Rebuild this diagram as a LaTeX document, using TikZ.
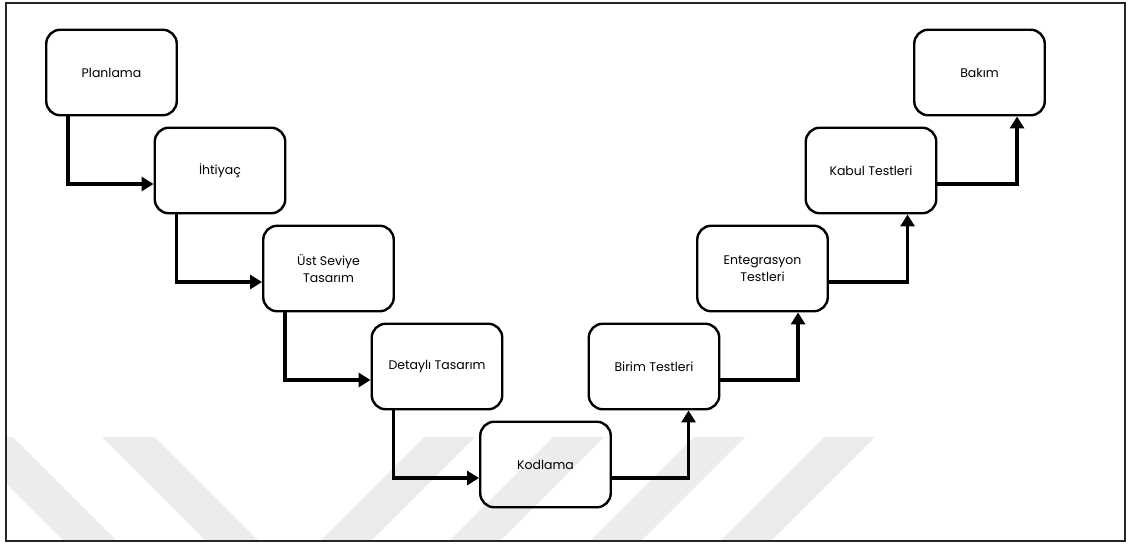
\documentclass[tikz,border=0pt]{standalone}
\usepackage{fontspec}
\setmainfont{Poppins}
\usetikzlibrary{arrows.meta}
\definecolor{wmgray}{RGB}{236,236,236}
\begin{document}
\begin{tikzpicture}[x=1pt,y=-1pt,
  stage/.style={draw=black, line width=2.4pt, rounded corners=14pt,
    minimum width=130.5pt, minimum height=85.5pt, inner sep=0pt,
    align=center, font=\fontsize{12.5}{17}\selectfont},
  flow/.style={line width=3.6pt, -{Triangle[length=12pt,width=14pt]}},
  stripe/.style={fill=wmgray, draw=none}]

\useasboundingbox (0,0) rectangle (1128,544);

% background stripes along the lower edge
\begin{scope}
  \clip (6,3) rectangle (1125,541);
  \foreach \x in {-40,102}
    \fill[stripe] (\x,437) -- ++(53,0) -- ++(107,107) -- ++(-53,0) -- cycle;
  \foreach \x in {424,553,694,824}
    \fill[stripe] (\x,437) -- ++(51,0) -- ++(-107,107) -- ++(-51,0) -- cycle;
\end{scope}

% stages of the V model
\node[stage] (s1) at (111.5,72.5)  {Planlama};
\node[stage] (s2) at (220,170.5)   {İhtiyaç};
\node[stage] (s3) at (328.5,268.5) {Üst Seviye\\Tasarım};
\node[stage] (s4) at (437,366.5)   {Detaylı Tasarım};
\node[stage] (s5) at (545.5,464.5) {Kodlama};
\node[stage] (s6) at (654,366.5)   {Birim Testleri};
\node[stage] (s7) at (762.5,268.5) {Entegrasyon\\Testleri};
\node[stage] (s8) at (871,170.5)   {Kabul Testleri};
\node[stage] (s9) at (979.5,72.5)  {Bakım};

% descending branch
\draw[flow] ([xshift=23pt]s1.south west) |- ([yshift=-13.5pt]s2.west);
\draw[flow] ([xshift=23pt]s2.south west) |- ([yshift=-13.5pt]s3.west);
\draw[flow] ([xshift=23pt]s3.south west) |- ([yshift=-13.5pt]s4.west);
\draw[flow] ([xshift=23pt]s4.south west) |- ([yshift=-13.5pt]s5.west);

% ascending branch
\draw[flow] ([yshift=-13.5pt]s5.east) -| ([xshift=101pt]s6.south west);
\draw[flow] ([yshift=-13.5pt]s6.east) -| ([xshift=102pt]s7.south west);
\draw[flow] ([yshift=-13.5pt]s7.east) -| ([xshift=103pt]s8.south west);
\draw[flow] ([yshift=-13.5pt]s8.east) -| ([xshift=104pt]s9.south west);

% frame
\draw[line width=1.6pt, draw=black!85] (6,3) rectangle (1125,541);
\end{tikzpicture}
\end{document}
